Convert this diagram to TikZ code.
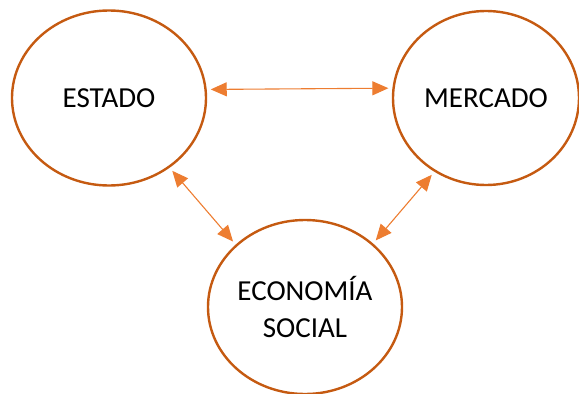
\documentclass[tikz,border=0pt]{standalone}
\usepackage{fontspec}
\setmainfont{Carlito}
\usetikzlibrary{shapes.geometric,arrows.meta}

\definecolor{sector_line}{HTML}{C55A11}
\definecolor{link_line}{HTML}{ED7D31}

\begin{document}
\begin{tikzpicture}[x=1pt,y=-1pt,
    sector/.style={ellipse, draw=sector_line, line width=2.4pt, fill=white,
      text=black, align=center, inner sep=0pt,
      font=\fontsize{29}{37}\selectfont},
    link/.style={draw=link_line, line width=1.1pt,
      {Triangle[length=16pt,width=14pt]}-{Triangle[length=16pt,width=14pt]},
      shorten <=4pt, shorten >=4pt}]
    \useasboundingbox (0,0) rectangle (579,394);

    \node[sector, minimum width=194pt, minimum height=175pt]
      (estado) at (109,98) {ESTADO};
    \node[sector, minimum width=186pt, minimum height=174pt]
      (mercado) at (486,98) {MERCADO};
    \node[sector, minimum width=194pt, minimum height=174pt]
      (econ) at (305,307) {ECONOMÍA\\SOCIAL};

    \draw[link] (estado.5) -- (mercado.174);
    \draw[link] (estado.-49) -- (econ.138);
    \draw[link] (mercado.-125) -- (econ.43);
  \end{tikzpicture}
\end{document}
